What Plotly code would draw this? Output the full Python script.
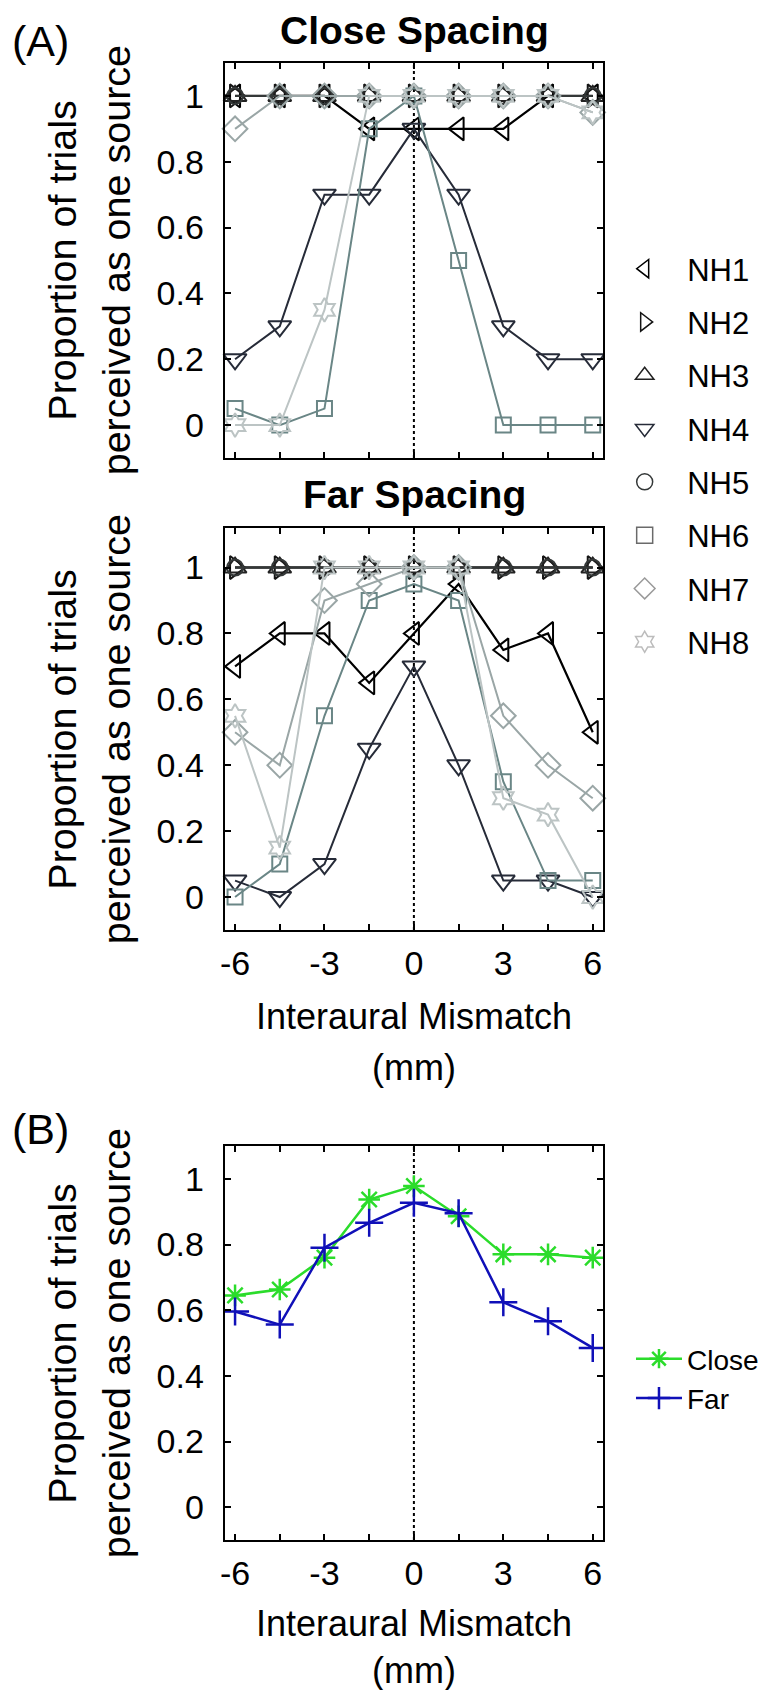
import plotly.graph_objects as go

# ---------------- data ----------------
X_MM = [-6, -4.5, -3, -1.5, 0, 1.5, 3, 4.5, 6]
X_TICKVALS = [-6, -4.5, -3, -1.5, 0, 1.5, 3, 4.5, 6]
X_TICKTEXT = ["-6", "", "-3", "", "0", "", "3", "", "6"]
Y_TICKVALS = [0, 0.2, 0.4, 0.6, 0.8, 1]
Y_TICKTEXT = ["0", "0.2", "0.4", "0.6", "0.8", "1"]
REF_X = 0

SUBJECTS = ["NH1", "NH2", "NH3", "NH4", "NH5", "NH6", "NH7", "NH8"]

# Close spacing, per listener
CLOSE_NH1 = [1, 1, 1, 0.9, 0.9, 0.9, 0.9, 1, 1]
CLOSE_NH2 = [1, 1, 1, 1, 1, 1, 1, 1, 1]
CLOSE_NH3 = [1, 1, 1, 1, 1, 1, 1, 1, 1]
CLOSE_NH4 = [0.2, 0.3, 0.7, 0.7, 0.9, 0.7, 0.3, 0.2, 0.2]
CLOSE_NH5 = [1, 1, 1, 1, 1, 1, 1, 1, 1]
CLOSE_NH6 = [0.05, 0, 0.05, 0.9, 1, 0.5, 0, 0, 0]
CLOSE_NH7 = [0.9, 1, 1, 1, 1, 1, 1, 1, 0.95]
CLOSE_NH8 = [0, 0, 0.35, 1, 1, 1, 1, 1, 0.95]

# Far spacing, per listener
FAR_NH1 = [0.7, 0.8, 0.8, 0.65, 0.8, 0.95, 0.75, 0.8, 0.5]
FAR_NH2 = [1, 1, 1, 1, 1, 1, 1, 1, 1]
FAR_NH3 = [1, 1, 1, 1, 1, 1, 1, 1, 1]
FAR_NH4 = [0.05, 0, 0.1, 0.45, 0.7, 0.4, 0.05, 0.05, 0]
FAR_NH5 = [1, 1, 1, 1, 1, 1, 1, 1, 1]
FAR_NH6 = [0, 0.1, 0.55, 0.9, 0.95, 0.9, 0.35, 0.05, 0.05]
FAR_NH7 = [0.5, 0.4, 0.9, 0.95, 1, 1, 0.55, 0.4, 0.3]
FAR_NH8 = [0.55, 0.15, 1, 1, 1, 1, 0.3, 0.25, 0]

# Panel B: averages
MEAN_CLOSE = [0.645, 0.663, 0.76, 0.937, 0.978, 0.886, 0.77, 0.77, 0.76]
MEAN_FAR = [0.596, 0.556, 0.79, 0.866, 0.927, 0.895, 0.624, 0.566, 0.485]

CLOSE_ALL = [CLOSE_NH1, CLOSE_NH2, CLOSE_NH3, CLOSE_NH4,
             CLOSE_NH5, CLOSE_NH6, CLOSE_NH7, CLOSE_NH8]
FAR_ALL = [FAR_NH1, FAR_NH2, FAR_NH3, FAR_NH4,
           FAR_NH5, FAR_NH6, FAR_NH7, FAR_NH8]

# ---------------- styles ----------------
SYMBOLS = ["triangle-left-open", "triangle-right-open", "triangle-up-open",
           "triangle-down-open", "circle-open", "square-open",
           "diamond-open", "hexagram-open"]
SIZES = [20, 20, 20, 20, 16, 15, 19, 18]
COLORS = ["#000000", "#141414", "#222222", "#262b38", "#343838",
          "#6a8686", "#9aa6a6", "#bcc4c4"]
LEGEND_COLORS = ["#000000", "#141414", "#222222", "#262b38", "#343838",
                 "#6a6a6a", "#9a9a9a", "#bcbcbc"]
WIDTHS = [2.2, 2, 2, 2, 2, 2, 2, 2]
GREEN = "#2bdc2b"
BLUE = "#1010b8"

FONT = "Liberation Sans, Arial, Helvetica, sans-serif"
W, H = 775, 1690

fig = go.Figure()

for panel, data in (("", CLOSE_ALL), ("2", FAR_ALL)):
    for i, ys in enumerate(data):
        fig.add_trace(go.Scatter(
            x=X_MM, y=ys, mode="lines+markers", name=SUBJECTS[i],
            xaxis="x" + panel, yaxis="y" + panel, showlegend=False,
            line=dict(color=COLORS[i], width=WIDTHS[i]),
            marker=dict(symbol=SYMBOLS[i], size=SIZES[i], color=COLORS[i],
                        line=dict(width=2, color=COLORS[i])),
            cliponaxis=False,
        ))

# legend entries for panel A (marker only)
for i, name in enumerate(SUBJECTS):
    fig.add_trace(go.Scatter(
        x=[None], y=[None], mode="markers", name=name,
        xaxis="x", yaxis="y", legend="legend", legendgroup=name,
        marker=dict(symbol=SYMBOLS[i], size=16, color=LEGEND_COLORS[i],
                    line=dict(width=1.5, color=LEGEND_COLORS[i])),
    ))

fig.add_trace(go.Scatter(
    x=X_MM, y=MEAN_CLOSE, mode="lines+markers", name="Close",
    xaxis="x3", yaxis="y3", legend="legend2",
    line=dict(color=GREEN, width=2.5),
    marker=dict(symbol="asterisk-open", size=18, color=GREEN,
                line=dict(width=2.5, color=GREEN)),
))
fig.add_trace(go.Scatter(
    x=X_MM, y=MEAN_FAR, mode="lines+markers", name="Far",
    xaxis="x3", yaxis="y3", legend="legend2",
    line=dict(color=BLUE, width=2.5),
    marker=dict(symbol="cross-thin-open", size=20, color=BLUE,
                line=dict(width=2.5, color=BLUE)),
))


def px_x(px):
    return px / W


def px_y(py):
    return 1 - py / H


def xaxis(domain, labels):
    return dict(domain=domain, range=[-6.35, 6.35], tickvals=X_TICKVALS,
                ticktext=X_TICKTEXT, showticklabels=labels, ticks="inside",
                ticklen=6, tickwidth=1.5, tickcolor="black", showline=True,
                linecolor="black", linewidth=2, mirror="ticks",
                showgrid=False, zeroline=False,
                tickfont=dict(family=FONT, size=34, color="black"),
                ticklabelstandoff=2)


def yaxis(domain, rng):
    return dict(domain=domain, range=rng, tickvals=Y_TICKVALS,
                ticktext=Y_TICKTEXT, ticks="inside", ticklen=6,
                tickwidth=1.5, tickcolor="black", showline=True,
                linecolor="black", linewidth=2, mirror="ticks",
                showgrid=False, zeroline=False,
                tickfont=dict(family=FONT, size=34, color="black"),
                ticklabelstandoff=12)


XDOM = [px_x(213), px_x(594)]
fig.update_layout(
    width=W, height=H, autosize=False,
    margin=dict(l=0, r=0, t=0, b=0),
    paper_bgcolor="white", plot_bgcolor="white",
    font=dict(family=FONT, color="black"),
    xaxis=dict(xaxis(XDOM, False), anchor="y"),
    yaxis=dict(yaxis([px_y(450), px_y(55)], [-0.1, 1.1]), anchor="x"),
    xaxis2=dict(xaxis(XDOM, True), anchor="y2"),
    yaxis2=dict(yaxis([px_y(922), px_y(520)], [-0.1, 1.12]), anchor="x2"),
    xaxis3=dict(xaxis(XDOM, True), anchor="y3"),
    yaxis3=dict(yaxis([px_y(1532), px_y(1138)], [-0.1, 1.1]), anchor="x3"),
    legend=dict(x=px_x(593), y=px_y(234), xanchor="left", yanchor="top",
                font=dict(family=FONT, size=31, color="black"),
                bgcolor="rgba(0,0,0,0)", tracegroupgap=10, itemwidth=75),
    legend2=dict(x=px_x(622), y=px_y(1326), xanchor="left", yanchor="top",
                 font=dict(family=FONT, size=28, color="black"),
                 bgcolor="rgba(0,0,0,0)", itemwidth=46, tracegroupgap=0),
)

for ax in ("", "2", "3"):
    fig.add_shape(type="line", xref="x" + ax, yref="y" + ax + " domain",
                  x0=REF_X, x1=REF_X, y0=0, y1=1, layer="below",
                  line=dict(color="black", width=2, dash="dot"))

ann = []


def text(s, x, y, size, bold=False, angle=0):
    ann.append(dict(text=("<b>%s</b>" % s) if bold else s,
                    x=px_x(x), y=px_y(y), xref="paper", yref="paper",
                    showarrow=False, xanchor="center", yanchor="middle",
                    textangle=angle,
                    font=dict(family=FONT, size=size, color="black")))


text("(A)", 28, 33, 43)
text("(B)", 28, 1121, 43)
text("Close Spacing", 404, 22, 39, bold=True)
text("Far Spacing", 404, 486, 39, bold=True)
for cy in (252, 721, 1335):
    text("Proportion of trials", 49, cy, 39.5, angle=-90)
    text("perceived as one source", 104, cy, 39.5, angle=-90)
for y1, y2 in ((1008, 1059), (1615, 1662)):
    text("Interaural Mismatch", 404, y1, 36)
    text("(mm)", 404, y2, 36)

fig.update_layout(annotations=ann)
fig.write_html("out.html")
